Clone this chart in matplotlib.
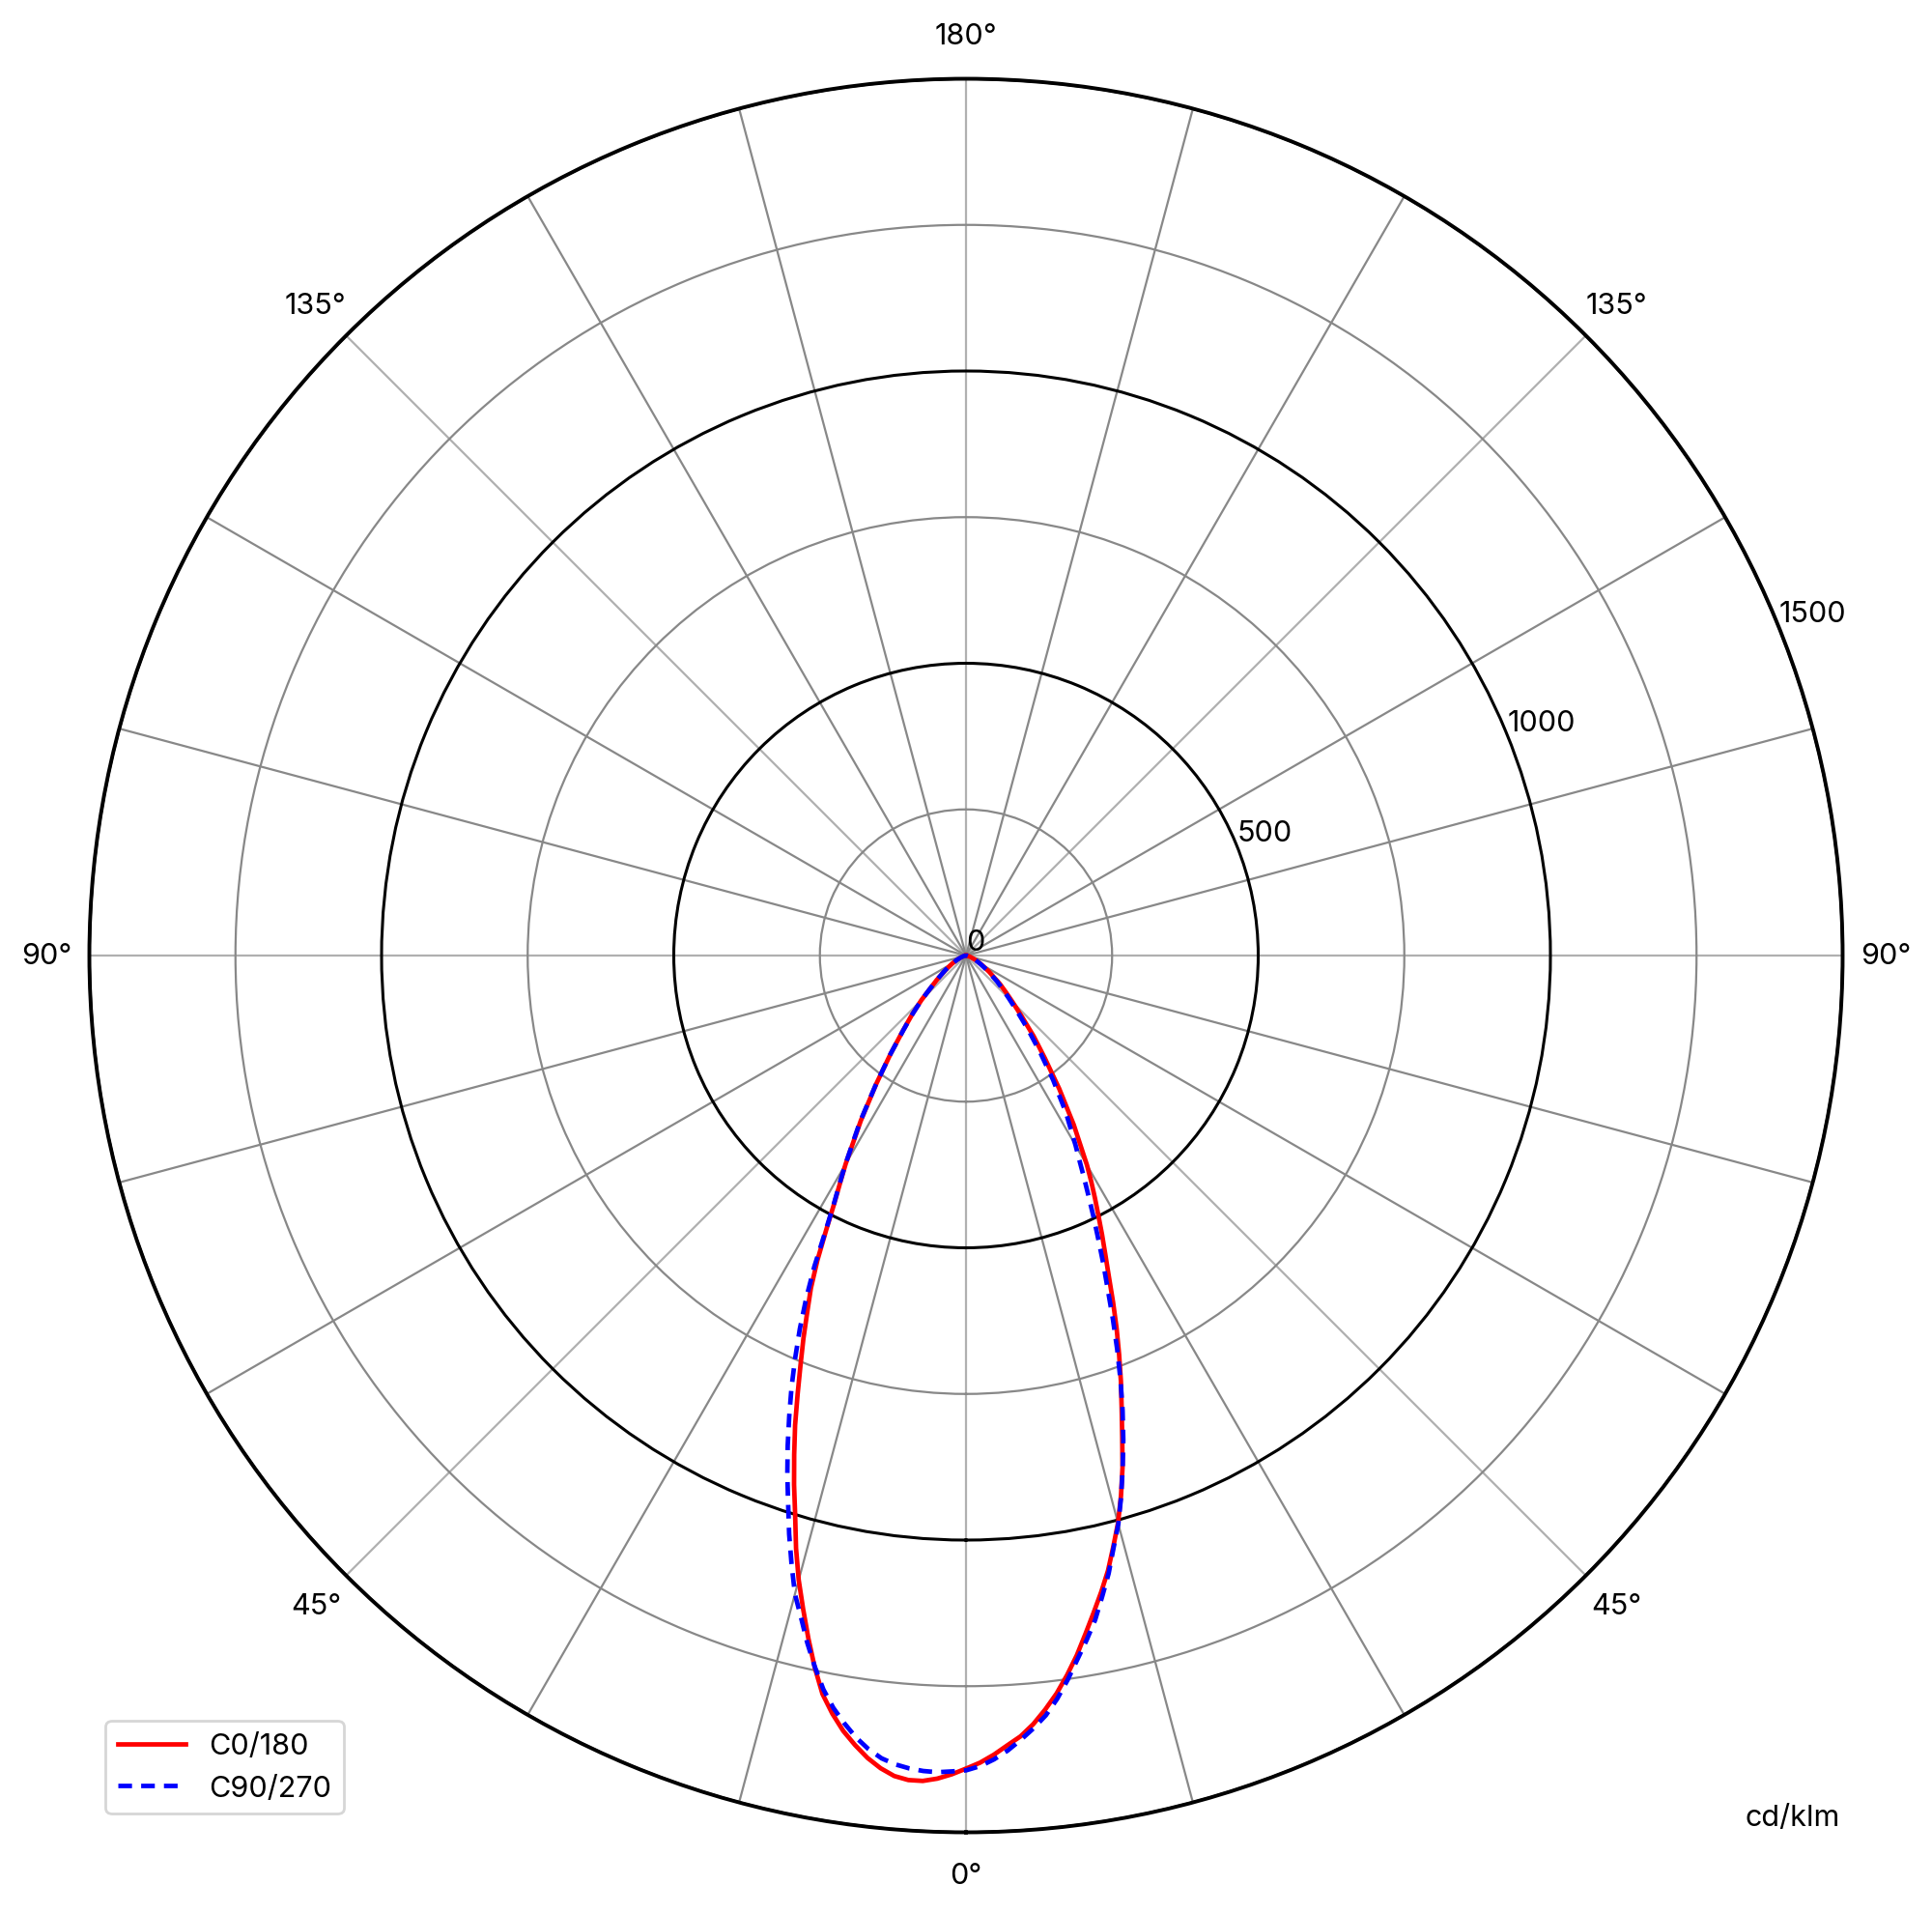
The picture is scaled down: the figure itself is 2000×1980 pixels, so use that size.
import numpy as np
import matplotlib
matplotlib.use("Agg")
import matplotlib.pyplot as plt

plt.rcParams['font.family'] = ['Inter', 'DejaVu Sans']
plt.rcParams['font.size'] = 11

# gamma angles (deg) and intensities (cd/klm)
gamma = list(range(0, 31)) + [32.5, 35, 37.5, 40, 42.5, 45, 47.5, 50,
                              55, 60, 65, 70, 75, 80, 85, 90]

c0 = [1391, 1381, 1368, 1353, 1339, 1320, 1297, 1272, 1243, 1212,
      1178, 1145, 1113, 1080, 1042, 1005, 962, 916, 865, 818,
      775, 731, 688, 644, 601, 564, 531, 499, 470, 442, 414,
      343, 278, 222, 180, 141, 113, 92, 76,
      48, 30, 18, 10, 6, 3, 1, 0]
c180 = [1391, 1401, 1409, 1414, 1414, 1409, 1398, 1383, 1364, 1343,
        1317, 1287, 1245, 1199, 1152, 1106, 1055, 1000, 952, 903,
        855, 804, 756, 712, 668, 628, 580, 527, 480, 444, 412,
        335, 267, 212, 168, 136, 108, 82, 66,
        42, 27, 16, 9, 5, 3, 1, 0]
c90 = [1394, 1387, 1376, 1362, 1345, 1327, 1307, 1281, 1251, 1219,
       1189, 1158, 1121, 1085, 1044, 1007, 963, 917, 871, 823,
       773, 722, 671, 621, 578, 536, 498, 462, 430, 400, 375,
       318, 260, 208, 165, 130, 104, 85, 70,
       45, 28, 17, 10, 6, 3, 1, 0]
c270 = [1394, 1396, 1398, 1397, 1394, 1389, 1381, 1368, 1351, 1330,
        1307, 1279, 1244, 1207, 1167, 1131, 1083, 1035, 985, 939,
        892, 844, 797, 748, 699, 647, 592, 530, 482, 446, 413,
        338, 268, 212, 167, 135, 108, 82, 66,
        43, 27, 16, 9, 5, 3, 1, 0]

theta_labels = ['0°', '45°', '90°', '135°', '180°', '135°', '90°', '45°']
r_ticks = [0, 500, 1000, 1500]
r_minor = [250, 750, 1250]


def both_sides(left, right):
    g = np.array(gamma, dtype=float)
    th = np.concatenate([-g[::-1], g[1:]])
    r = np.concatenate([np.array(left)[::-1], np.array(right)[1:]])
    return np.deg2rad(th), r


fig = plt.figure(figsize=(10, 9.905), dpi=200)
ax = fig.add_axes([0.04625, 0.04215, 0.9075, 0.9162], projection='polar')
ax.set_theta_zero_location('S')
ax.set_theta_direction(1)

th, r = both_sides(c180, c0)
ax.plot(th, r, color='red', lw=1.7, label='C0/180')
th, r = both_sides(c270, c90)
ax.plot(th, r, color='blue', lw=1.7, ls=(0, (3.0, 2.0)), label='C90/270')

ax.set_ylim(0, 1500)
ax.set_xticks(np.deg2rad(np.arange(0, 360, 45)))
ax.set_xticklabels(theta_labels)
ax.set_xticks(np.deg2rad([a for a in range(0, 360, 15) if a % 45]), minor=True)
ax.set_yticks(r_ticks)
ax.set_yticklabels([str(v) for v in r_ticks])
ax.set_yticks(r_minor, minor=True)
ax.set_rlabel_position(112.0)

ax.xaxis.grid(True, which='major', color='#b0b0b0', lw=0.8)
ax.xaxis.grid(True, which='minor', color='#888888', lw=0.8)
ax.yaxis.grid(True, which='major', color='black', lw=1.1)
ax.yaxis.grid(True, which='minor', color='#888888', lw=0.8)
ax.tick_params(axis='x', pad=5.5)
ax.tick_params(axis='y', which='minor', length=0)
ax.spines['polar'].set_linewidth(1.4)

fig.text(0.9525, 0.046, 'cd/klm', ha='right', va='baseline')
fig.legend(loc='lower left', bbox_to_anchor=(0.0547, 0.052), borderaxespad=0,
           handlelength=2.3)

fig.savefig('out.png', dpi=200)
